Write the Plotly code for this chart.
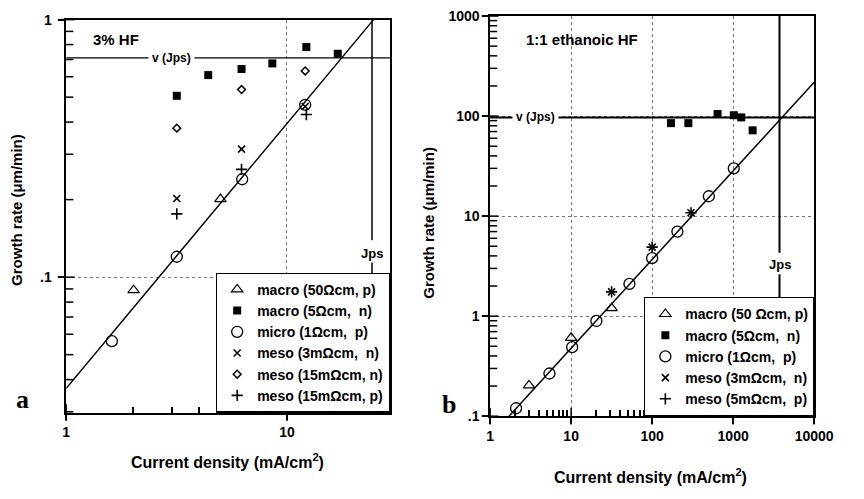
import math
import plotly.graph_objects as go

# ---------------- data: panel a (3% HF) ----------------
a_macro50_x = [2.02, 5.0]
a_macro50_y = [0.089, 0.201]
a_macro5_x = [3.17, 4.40, 6.23, 8.59, 12.25, 17.0]
a_macro5_y = [0.506, 0.609, 0.643, 0.676, 0.783, 0.737]
a_micro_x = [1.61, 3.17, 6.27, 12.1]
a_micro_y = [0.0564, 0.120, 0.240, 0.467]
a_meso3n_x = [3.17, 6.23, 12.1]
a_meso3n_y = [0.202, 0.314, 0.46]
a_meso15n_x = [3.17, 6.23, 12.1]
a_meso15n_y = [0.379, 0.535, 0.632]
a_meso15p_x = [3.17, 6.23, 12.25]
a_meso15p_y = [0.176, 0.262, 0.428]
a_fit_x = [1.0, 24.7]
a_fit_y = [0.037, 1.0]
a_v = 0.71
a_jps = 24.3

# ---------------- data: panel b (1:1 ethanoic HF) ----------------
b_macro50_x = [3.02, 10.0, 31.6]
b_macro50_y = [0.203, 0.607, 1.2]
b_macro5_x = [171, 280, 643, 1018, 1260, 1740]
b_macro5_y = [85, 85, 105, 102, 97, 72]
b_micro_x = [2.09, 5.4, 10.3, 20.5, 52.5, 100, 205, 501, 1018]
b_micro_y = [0.12, 0.267, 0.49, 0.895, 2.1, 3.8, 7.0, 15.8, 30]
b_meso3n_x = [31.6, 100, 302]
b_meso3n_y = [1.75, 4.9, 10.8]
b_meso5p_x = [31.6, 100, 302]
b_meso5p_y = [1.75, 4.9, 10.8]
b_fit_x = [1.71, 10000]
b_fit_y = [0.1, 218]
b_v = 97
b_jps = 3735

# tick labels
a_xticks = [1, 10]
a_xticktext = ["1", "10"]
a_yticks = [0.1, 1]
a_yticktext = [".1", "1"]
b_xticks = [1, 10, 100, 1000, 10000]
b_xticktext = ["1", "10", "100", "1000", "10000"]
b_yticks = [0.1, 1, 10, 100, 1000]
b_yticktext = [".1", "1", "10", "100", "1000"]

W, H = 864, 499
FONT = "Liberation Sans, Arial, Helvetica, sans-serif"
SERIF = "Liberation Serif, Times New Roman, serif"


def px_x(p):
    return p / W


def px_y(p):
    return 1 - p / H


a_xr = [0, 1.467]
a_yr = [-1.526, 0]
b_xr = [0, 4]
b_yr = [-1, 3]

A_LEFT, A_RIGHT, A_TOP, A_BOT = 64, 397, 12, 418
B_LEFT, B_RIGHT, B_TOP, B_BOT = 500, 833.3, 8.3, 421.7


def minor_vals(lo, hi):
    return [k * 10.0 ** d for d in range(lo, hi) for k in range(2, 10)]


def in_range(vals, rng):
    return [v for v in vals if rng[0] - 1e-9 <= math.log10(v) <= rng[1] + 1e-9]


fig = go.Figure()

sym = {
    "macro50": dict(symbol="triangle-up-open", size=10, color="black", line=dict(width=1.2, color="black")),
    "macro5": dict(symbol="square", size=8, color="black", line=dict(width=0)),
    "micro": dict(symbol="circle-open", size=11, color="black", line=dict(width=1.3, color="black")),
    "meso_x": dict(symbol="x-thin-open", size=7, color="black", line=dict(width=1.6, color="black")),
    "meso_d": dict(symbol="diamond-open", size=6, color="black", line=dict(width=1.5, color="black")),
    "meso_p": dict(symbol="cross-thin-open", size=8, color="black", line=dict(width=1.6, color="black")),
}


def add_pts(x, y, name, m, xa, ya, leg):
    fig.add_trace(go.Scatter(x=x, y=y, mode="markers", name="<b>" + name + "</b>", marker=m,
                             xaxis=xa, yaxis=ya, legend=leg, cliponaxis=False))


def add_line(x, y, xa, ya, w=1.5):
    fig.add_trace(go.Scatter(x=x, y=y, mode="lines", line=dict(color="black", width=w),
                             xaxis=xa, yaxis=ya, showlegend=False, hoverinfo="skip"))


def add_ticks(x, y, symbol, size, xa, ya):
    fig.add_trace(go.Scatter(x=x, y=y, mode="markers", xaxis=xa, yaxis=ya,
                             marker=dict(symbol=symbol, size=size, color="black",
                                         line=dict(width=1.5, color="black")),
                             showlegend=False, hoverinfo="skip", cliponaxis=False))


def y_tick_marks(xr, yr, majors, minors, left_px, right_px, xa, ya):
    # minor ticks: 6 px long, just inside the left axis; major ticks: across the axis line
    per_px = (xr[1] - xr[0]) / (right_px - left_px)
    x_in = 10 ** (xr[0] + 3 * per_px)
    mv = in_range(minors, yr)
    add_ticks([x_in] * len(mv), mv, "line-ew-open", 6, xa, ya)
    mj = in_range(majors, yr)
    add_ticks([10 ** xr[0]] * len(mj), mj, "line-ew-open", 12, xa, ya)


def x_tick_marks(xr, yr, majors, top_px, bot_px, xa, ya):
    mj = in_range(majors, xr)
    add_ticks(mj, [10 ** yr[0]] * len(mj), "line-ns-open", 12, xa, ya)


# invisible copies of the fit lines so the overlay axes exist
fig.add_trace(go.Scatter(x=a_fit_x, y=a_fit_y, mode="markers", marker=dict(opacity=0),
                         xaxis="x3", yaxis="y3", showlegend=False, hoverinfo="skip"))
fig.add_trace(go.Scatter(x=b_fit_x, y=b_fit_y, mode="markers", marker=dict(opacity=0),
                         xaxis="x4", yaxis="y4", showlegend=False, hoverinfo="skip"))

# panel a lines
add_line(a_fit_x, a_fit_y, "x", "y", 1.5)
add_line([10 ** a_xr[0], 10 ** a_xr[1]], [a_v, a_v], "x", "y", 1.3)
add_line([a_jps, a_jps], [1.0, 0.139], "x", "y", 1.5)
add_line([a_jps, a_jps], [0.114, 0.0878], "x", "y", 1.5)
# panel b lines
add_line(b_fit_x, b_fit_y, "x2", "y2", 1.5)
add_line([10 ** b_xr[0], 10 ** b_xr[1]], [b_v, b_v], "x2", "y2", 2)
add_line([b_jps, b_jps], [1000, 4.3], "x2", "y2", 2)
add_line([b_jps, b_jps], [2.63, 1.27], "x2", "y2", 2)

# tick marks drawn as line markers (y minor + majors, x majors)
y_tick_marks(a_xr, a_yr, a_yticks, minor_vals(-2, 0), A_LEFT, A_RIGHT, "x", "y")
y_tick_marks(b_xr, b_yr, b_yticks, minor_vals(-1, 3), B_LEFT, B_RIGHT, "x2", "y2")
x_tick_marks(a_xr, a_yr, a_xticks, A_TOP, A_BOT, "x", "y")
x_tick_marks(b_xr, b_yr, b_xticks, B_TOP, B_BOT, "x2", "y2")

# panel a points
add_pts(a_macro50_x, a_macro50_y, "macro (50Ωcm, p)", sym["macro50"], "x", "y", "legend")
add_pts(a_macro5_x, a_macro5_y, "macro (5Ωcm,  n)", sym["macro5"], "x", "y", "legend")
add_pts(a_micro_x, a_micro_y, "micro (1Ωcm,  p)", sym["micro"], "x", "y", "legend")
add_pts(a_meso3n_x, a_meso3n_y, "meso (3mΩcm,  n)", sym["meso_x"], "x", "y", "legend")
add_pts(a_meso15n_x, a_meso15n_y, "meso (15mΩcm, n)", sym["meso_d"], "x", "y", "legend")
add_pts(a_meso15p_x, a_meso15p_y, "meso (15mΩcm, p)", sym["meso_p"], "x", "y", "legend")
# panel b points
add_pts(b_macro50_x, b_macro50_y, "macro (50 Ωcm, p)", sym["macro50"], "x2", "y2", "legend2")
add_pts(b_macro5_x, b_macro5_y, "macro (5Ωcm,  n)", sym["macro5"], "x2", "y2", "legend2")
add_pts(b_micro_x, b_micro_y, "micro (1Ωcm,  p)", sym["micro"], "x2", "y2", "legend2")
add_pts(b_meso3n_x, b_meso3n_y, "meso (3mΩcm,  n)", sym["meso_x"], "x2", "y2", "legend2")
add_pts(b_meso5p_x, b_meso5p_y, "meso (5mΩcm,  p)", sym["meso_p"], "x2", "y2", "legend2")

TICKFONT = dict(family=FONT, size=14, color="black")


def x_axis(domain, rng, tv, tt, anchor):
    return dict(
        type="log", domain=domain, range=rng, anchor=anchor,
        tickmode="array", tickvals=tv, ticktext=["<b>" + t + "</b>" for t in tt],
        ticks="outside", ticklen=6, tickwidth=1.5, tickcolor="black",
        showline=True, linecolor="black", linewidth=1.5, mirror=True,
        showgrid=True, gridcolor="#777", griddash="dot", gridwidth=1,
        zeroline=False, tickfont=TICKFONT,
    )


def x_minor(domain, rng, mv, anchor, over):
    return dict(
        type="log", domain=domain, range=rng, anchor=anchor, overlaying=over, side="bottom",
        tickmode="array", tickvals=mv, ticktext=[""] * len(mv),
        ticks="inside", ticklen=6, tickwidth=1.5, tickcolor="black",
        showticklabels=True, showgrid=False, showline=False, zeroline=False,
    )


def y_axis(domain, rng, tv, tt, anchor, pad):
    return dict(
        type="log", domain=domain, range=rng, anchor=anchor,
        tickmode="array", tickvals=tv,
        ticktext=["<b>" + t + "</b>" + "&nbsp;" * pad for t in tt],
        ticks="outside", ticklen=6, tickwidth=1.5, tickcolor="black",
        showline=True, linecolor="black", linewidth=1.5, mirror=True,
        showgrid=True, gridcolor="#777", griddash="dot", gridwidth=1,
        zeroline=False, tickfont=TICKFONT,
    )


def y_dummy(domain, rng, anchor, over):
    return dict(type="log", domain=domain, range=rng, anchor=anchor, overlaying=over,
                side="left", showticklabels=False, ticks="", showgrid=False,
                showline=False, zeroline=False)


legfont = dict(family=FONT, size=14, color="black")

a_xd = [px_x(A_LEFT), px_x(A_RIGHT)]
a_yd = [px_y(A_BOT), px_y(A_TOP)]
b_xd = [px_x(B_LEFT), px_x(B_RIGHT)]
b_yd = [px_y(B_BOT), px_y(B_TOP)]

fig.update_layout(
    width=W, height=H,
    margin=dict(l=0, r=0, t=0, b=0),
    paper_bgcolor="white", plot_bgcolor="white",
    font=dict(family=FONT, color="black"),
    xaxis=x_axis(a_xd, a_xr, a_xticks, a_xticktext, "y"),
    yaxis=y_axis(a_yd, a_yr, a_yticks, a_yticktext, "x", 1),
    xaxis2=x_axis(b_xd, b_xr, b_xticks, b_xticktext, "y2"),
    yaxis2=y_axis(b_yd, b_yr, b_yticks, b_yticktext, "x2", 0),
    xaxis3=x_minor(a_xd, a_xr, minor_vals(0, 2), "y", "x"),
    yaxis3=y_dummy(a_yd, a_yr, "x", "y"),
    xaxis4=x_minor(b_xd, b_xr, minor_vals(0, 4), "y2", "x2"),
    yaxis4=y_dummy(b_yd, b_yr, "x2", "y2"),
    legend=dict(x=px_x(A_RIGHT), y=px_y(A_BOT), xanchor="right", yanchor="bottom",
                bgcolor="white", bordercolor="black", borderwidth=1.2,
                font=legfont, tracegroupgap=0, itemwidth=30),
    legend2=dict(x=px_x(B_RIGHT), y=px_y(B_BOT), xanchor="right", yanchor="bottom",
                 bgcolor="white", bordercolor="black", borderwidth=1.2,
                 font=legfont, tracegroupgap=0, itemwidth=30),
    showlegend=True,
)


def note(text, x, y, size=14, xref="paper", yref="paper", angle=0, family=FONT, bg=None, pad=1):
    fig.add_annotation(text="<b>" + text + "</b>", x=x, y=y, xref=xref, yref=yref, showarrow=False,
                       textangle=angle, xanchor="center", yanchor="middle",
                       font=dict(family=family, size=size, color="black"),
                       bgcolor=bg, borderpad=pad)


note("3% HF", px_x(115), px_y(33), 15)
note("1:1 ethanoic HF", px_x(594), px_y(33), 15)
note("v (Jps)", px_x(172), math.log10(a_v), 12, yref="y", bg="white", pad=3)
note("v (Jps)", px_x(547), math.log10(b_v), 12, yref="y2", bg="white", pad=3)
note("Jps", math.log10(a_jps), px_y(254), 13, xref="x")
note("Jps", math.log10(b_jps), px_y(265), 13, xref="x2")
note("Current density (mA/cm<sup>2</sup>)", px_x(230), px_y(468), 16)
note("Current density (mA/cm<sup>2</sup>)", px_x(665), px_y(483), 16)
note("Growth rate (μm/min)", px_x(13), px_y(209), 15, angle=-90)
note("Growth rate (μm/min)", px_x(437), px_y(222), 15, angle=-90)
note("a", px_x(19), px_y(404), 26, family=SERIF)
note("b", px_x(458), px_y(410), 26, family=SERIF)

fig.write_html(
    "out.html",
    config={"displayModeBar": False},
    post_script="document.body.style.margin='0';document.body.style.overflow='hidden';",
)
